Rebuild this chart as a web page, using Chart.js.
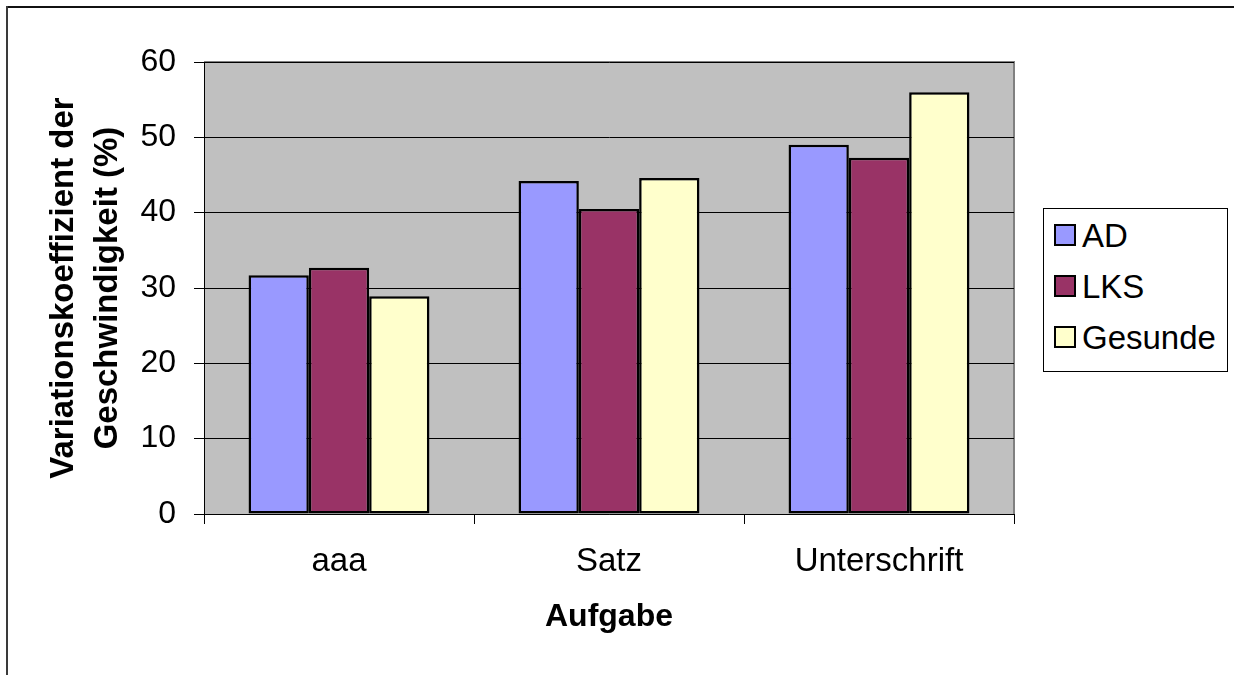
<!DOCTYPE html>
<html>
<head>
<meta charset="utf-8">
<script src="https://cdn.jsdelivr.net/npm/chart.js@4/dist/chart.umd.min.js"></script>
<style>
    html, body { margin: 0; padding: 0; background: #fff; font-family: "Liberation Sans", Arial, sans-serif; overflow: hidden; }
    #wrap { position: relative; width: 1234px; height: 675px; overflow: hidden; }
    #frameTop { position: absolute; left: 6px; top: 6px; width: 1228px; height: 2px; background: #111; }
    #frameLeft { position: absolute; left: 6px; top: 6px; width: 2px; height: 669px; background: #3a3a3a; }
    #chart { position: absolute; left: 0; top: 0; display: block; }
    #legend { position: absolute; left: 1043px; top: 208px; width: 183px; height: 162px; border: 1px solid #000; background: #fff; }
    .item { position: absolute; left: 10px; font-size: 33px; color: #000; line-height: 40px; white-space: nowrap; }
    .swatch { display: inline-block; width: 18px; height: 18px; border: 2px solid #000; margin-right: 6px; vertical-align: middle; position: relative; top: -3px; }
</style>
</head>
<body>
<div id="wrap">
    <canvas id="chart" width="1234" height="675"></canvas>
    <div id="frameTop"></div>
    <div id="frameLeft"></div>
    <div id="legend"></div>
</div>
<script>
// Data
const categories = ['aaa', 'Satz', 'Unterschrift'];
const seriesNames = ['AD', 'LKS', 'Gesunde'];
const adValues = [31.7, 44.2, 49.0];
const lksValues = [32.7, 40.5, 47.3];
const gesundeValues = [28.9, 44.6, 56.0];
const yTicks = [0, 10, 20, 30, 40, 50, 60];

const colors = ['#9999FF', '#993366', '#FFFFCC'];
const seriesValues = [adValues, lksValues, gesundeValues];

// Gray plot area with gray top/right border
const plotBackground = {
    id: 'plotBackground',
    beforeDraw(chart) {
        const { ctx, chartArea: a } = chart;
        ctx.save();
        ctx.fillStyle = '#C0C0C0';
        ctx.fillRect(a.left, a.top, a.right - a.left, a.bottom - a.top);
        ctx.strokeStyle = '#808080';
        ctx.lineWidth = 2;
        ctx.beginPath();
        ctx.moveTo(a.left, a.top);
        ctx.lineTo(a.right, a.top);
        ctx.lineTo(a.right, a.bottom);
        ctx.stroke();
        ctx.restore();
    }
};

const chart = new Chart(document.getElementById('chart').getContext('2d'), {
    type: 'bar',
    data: {
        labels: categories,
        datasets: seriesNames.map((name, i) => ({
            label: name,
            data: seriesValues[i],
            backgroundColor: colors[i],
            borderColor: '#000',
            borderWidth: 2.5,
            borderSkipped: false,
            categoryPercentage: 0.67,
            barPercentage: 1.0
        }))
    },
    options: {
        responsive: false,
        animation: false,
        layout: { padding: { top: 62, right: 220, left: 0, bottom: 0 } },
        plugins: {
            legend: { display: false },
            tooltip: { enabled: false }
        },
        scales: {
            x: {
                afterFit: s => { s.height = 675 - 514; },
                grid: { drawOnChartArea: false, drawTicks: true, tickLength: 10, color: '#000', offset: true },
                border: { display: true, color: '#000', width: 1 },
                ticks: { color: '#000', font: { family: 'Liberation Sans', size: 33 }, padding: 18 },
                title: {
                    display: true, text: 'Aufgabe', color: '#000',
                    font: { family: 'Liberation Sans', size: 32, weight: 'bold' },
                    padding: { top: 10, bottom: 39 }
                }
            },
            y: {
                min: 0, max: 60,
                afterFit: s => { s.width = 204; },
                afterBuildTicks: s => { s.ticks = yTicks.map(v => ({ value: v })); },
                grid: { color: '#000', lineWidth: 1, tickLength: 10 },
                border: { display: true, color: '#000', width: 1 },
                ticks: { color: '#000', font: { family: 'Liberation Sans', size: 32 }, padding: 18 },
                title: {
                    display: true,
                    text: ['Variationskoeffizient der', 'Geschwindigkeit (%)'],
                    color: '#000',
                    font: { family: 'Liberation Sans', size: 33, weight: 'bold', lineHeight: 1.333 },
                    padding: { top: 42 }
                }
            }
        }
    },
    plugins: [plotBackground]
});

// Legend as HTML, built from the series arrays
const legend = document.getElementById('legend');
seriesNames.forEach((name, i) => {
    const item = document.createElement('div');
    item.className = 'item';
    item.style.top = (7 + i * 51) + 'px';
    item.innerHTML = `<span class="swatch" style="background:${colors[i]}"></span>${name}`;
    legend.appendChild(item);
});
</script>
</body>
</html>
